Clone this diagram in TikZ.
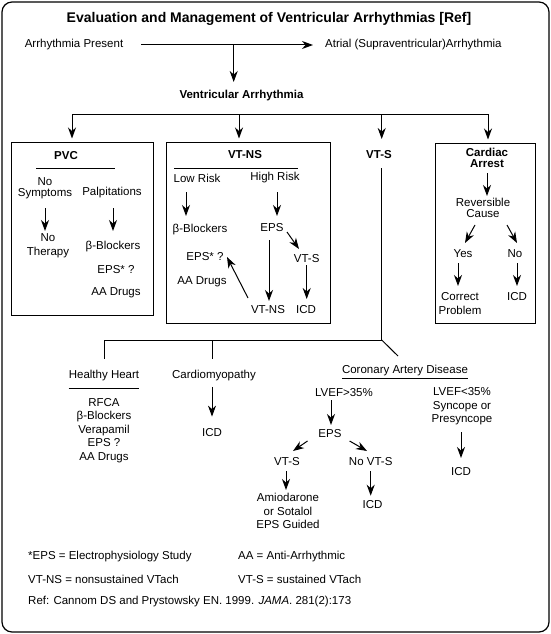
\documentclass[tikz,border=0pt]{standalone}
\usepackage{fontspec}
\setmainfont{Liberation Sans}
\usetikzlibrary{arrows.meta}
\tikzset{
  txt/.style={inner sep=0pt, align=center, font=\fontsize{11.5}{13.5}\selectfont},
  txtt/.style={inner sep=0pt, align=center, font=\fontsize{11.5}{10.5}\selectfont},
  bld/.style={inner sep=0pt, align=center, font=\fontsize{11.5}{13.5}\selectfont\bfseries},
  bldt/.style={inner sep=0pt, align=center, font=\fontsize{11.5}{11.5}\selectfont\bfseries},
  arr/.style={-{Stealth[length=11pt,width=8pt,inset=3.5pt]}, line width=1pt},
  ln/.style={line width=1pt},
  box/.style={draw, line width=1pt, inner sep=0pt},
}
\begin{document}
\begin{tikzpicture}[x=1pt,y=-1pt]
\useasboundingbox (0,0) rectangle (551,634);
\draw[line width=1.2pt, rounded corners=10pt] (2,2) rectangle (549,632);

% top
\node[inner sep=0pt, font=\fontsize{14}{16}\selectfont\bfseries] (title) at (269,19) {Evaluation and Management of Ventricular Arrhythmias [Ref]};
\node[txt, anchor=west] (present) at (24.6,45) {Arrhythmia Present};
\node[txt, anchor=west] (atrial) at (325,45) {Atrial (Supraventricular)Arrhythmia};
\node[bld] (va) at (241.5,95.6) {Ventricular Arrhythmia};
\draw[arr, shorten <=18pt, shorten >=12pt] (present.east) -- (atrial.west);
\coordinate (j0) at (233.7,45);
\draw[arr] (j0) -- ([shift={(-7.8,-13.6)}]va.center);

% boxes
\node[box, minimum width=142pt, minimum height=173pt] (pvcbox) at (82,228.5) {};
\node[box, minimum width=164pt, minimum height=181pt] (vtnsbox) at (248,232.5) {};
\node[box, minimum width=100pt, minimum height=180pt] (cabox) at (485,233) {};

% branch bar
\coordinate (b1) at (72,114);
\coordinate (b2) at (239,114);
\coordinate (b3) at (381.7,114);
\coordinate (b4) at (488,114);
\draw[ln] (b1) -- (b4);
\node[bld] (vtsl) at (379,155) {VT-S};
\draw[arr, shorten >=3pt] (b1) -- (b1 |- pvcbox.north);
\draw[arr, shorten >=3pt] (b2) -- (b2 |- vtnsbox.north);
\draw[arr] (b3) -- ([shift={(2.7,-16)}]vtsl.center);
\draw[arr, shorten >=3pt] (b4) -- (b4 |- cabox.north);

% PVC
\node[bld] (pvcl) at (66,156) {PVC};
\draw[ln] (36,168) -- (115,168);
\node[txtt] (nosym) at (45,188) {No\\Symptoms};
\node[txt] (palp) at (112,193) {Palpitations};
\node[txt] (nother) at (48,245.7) {No\\Therapy};
\node[txt] (bb1) at (113,247) {β-Blockers};
\node[txt] (eps1) at (116,270) {EPS* ?};
\node[txt] (aa1) at (116,293) {AA Drugs};
\draw[arr] ([shift={(0,20)}]nosym.center) -- ([shift={(-3,-14.7)}]nother.center);
\draw[arr] ([shift={(1,15)}]palp.center) -- ([shift={(0,-16)}]bb1.center);

% VT-NS
\node[bld] (vtnsl) at (245,155) {VT-NS};
\draw[ln] (174,168) -- (298,168);
\node[txt] (low) at (197,178) {Low Risk};
\node[txt] (high) at (275,178) {High Risk};
\node[txt] (bb2) at (200,229.3) {β-Blockers};
\node[txt] (eps2) at (272,228) {EPS};
\node[txt] (eps2b) at (205,257) {EPS* ?};
\node[txt] (aa2) at (202,282) {AA Drugs};
\node[txt] (vtns2) at (268,310) {VT-NS};
\node[txt] (vts2) at (306.7,259) {VT-S};
\node[txt] (icd2) at (306,310) {ICD};
\draw[arr] ([shift={(-11,14)}]low.center) -- ([shift={(-14,-13.3)}]bb2.center);
\draw[arr] ([shift={(2,14)}]high.center) -- ([shift={(5,-12)}]eps2.center);
\draw[arr] ([shift={(-3,12)}]eps2.center) -- ([shift={(1,-9)}]vtns2.center);
\draw[arr] ([shift={(15,4)}]eps2.center) -- ([shift={(-7.7,-10)}]vts2.center);
\draw[arr] ([shift={(0,6)}]vts2.center) -- ([shift={(0.7,-11)}]icd2.center);
\draw[arr] ([shift={(-20,-12)}]vtns2.center) -- ([shift={(22,0)}]eps2b.center);

% Cardiac arrest
\node[bldt] (ca) at (487,157.8) {Cardiac\\Arrest};
\node[txtt] (rev) at (483,207.7) {Reversible\\Cause};
\node[txt] (yes) at (463,254) {Yes};
\node[txt] (no) at (515,254) {No};
\node[txt] (corr) at (460,303.5) {Correct\\Problem};
\node[txt] (icd3) at (517,297) {ICD};
\draw[arr] ([shift={(0,15.2)}]ca.center) -- ([shift={(4,-11.7)}]rev.center);
\draw[arr] ([shift={(-8,17.3)}]rev.center) -- ([shift={(2,-11)}]yes.center);
\draw[arr] ([shift={(24,17.3)}]rev.center) -- ([shift={(2,-11)}]no.center);
\draw[arr] ([shift={(-5,9)}]yes.center) -- ([shift={(-2,-17.5)}]corr.center);
\draw[arr] ([shift={(2,9)}]no.center) -- ([shift={(0,-11)}]icd3.center);

% VT-S branches
\coordinate (c0) at (104,340);
\coordinate (c2) at (212.6,340);
\coordinate (c1) at (381.7,340);
\node[txt] (hh) at (104,375.5) {Healthy Heart};
\draw[ln] (68.5,388.5) -- (139,388.5);
\node[txt] (hhlist) at (104,430.3) {RFCA\\β-Blockers\\Verapamil\\EPS ?\\AA Drugs};
\node[txt] (cm) at (214,375.5) {Cardiomyopathy};
\node[txt] (icd4) at (212,433) {ICD};
\node[txt] (cad) at (405,372) {\underline{Coronary Artery Disease}};
\draw[ln] ([shift={(2.7,13)}]vtsl.center) -- (c1) -- (c0);
\draw[ln] (c0) -- ([shift={(0,-16.5)}]hh.center);
\draw[ln] (c2) -- ([shift={(-1.4,-16.5)}]cm.center);
\draw[ln] (c1) -- ([shift={(-7,-16)}]cad.center);
\draw[arr] ([shift={(-2,11.3)}]cm.center) -- ([shift={(0,-16.4)}]icd4.center);

\node[txt] (lvefg) at (344,393) {LVEF>35\%};
\node[txt] (eps3) at (330,434) {EPS};
\node[txt] (vts3) at (287,462) {VT-S};
\node[txt] (novts) at (370.7,462) {No VT-S};
\node[txt] (amio) at (288,511) {Amiodarone\\or Sotalol\\EPS Guided};
\node[txt] (icd5) at (372.5,504.5) {ICD};
\node[txt] (lvefl) at (462,406.6) {LVEF<35\%\\Syncope or\\Presyncope};
\node[txt] (icd6) at (461,471.8) {ICD};
\draw[arr] ([shift={(-13,7)}]lvefg.center) -- ([shift={(1,-9)}]eps3.center);
\draw[arr] ([shift={(-22.5,7)}]eps3.center) -- ([shift={(6,-11)}]vts3.center);
\draw[arr] ([shift={(19.6,7)}]eps3.center) -- ([shift={(-3.7,-11)}]novts.center);
\draw[arr] ([shift={(-1,9)}]vts3.center) -- ([shift={(-2,-21)}]amio.center);
\draw[arr] ([shift={(0,9)}]novts.center) -- ([shift={(-1.8,-8.8)}]icd5.center);
\draw[arr] ([shift={(-1,25.8)}]lvefl.center) -- ([shift={(0,-13.8)}]icd6.center);

% footnotes
\node[txt, anchor=west] (fn1) at (28,557) {*EPS = Electrophysiology Study};
\node[txt, anchor=west] (fn2) at (238,557) {AA = Anti-Arrhythmic};
\node[txt, anchor=west] (fn3) at (28,579) {VT-NS = nonsustained VTach};
\node[txt, anchor=west] (fn4) at (238,579) {VT-S = sustained VTach};
\node[txt, anchor=west] (fn5) at (28,602) {Ref: Cannom DS and Prystowsky EN. 1999. \textit{JAMA}. 281(2):173};
\end{tikzpicture}
\end{document}
